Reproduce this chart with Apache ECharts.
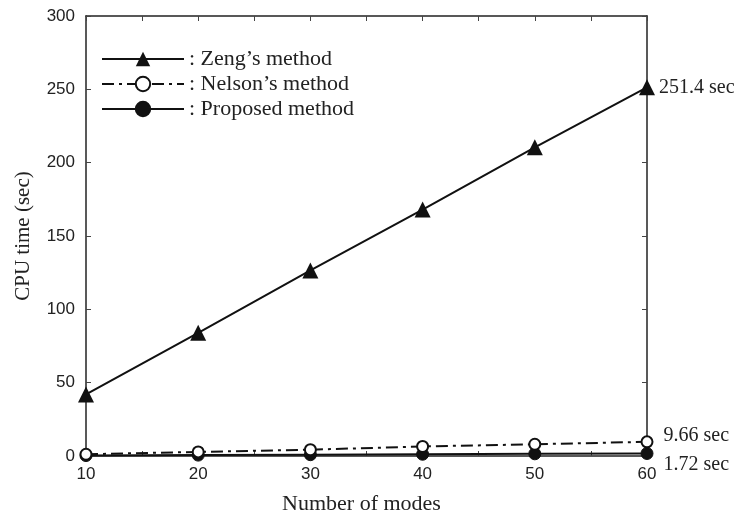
<!DOCTYPE html>
<html>
<head>
<meta charset="utf-8">
<script src="https://cdn.jsdelivr.net/npm/echarts@6/dist/echarts.min.js"></script>
<style>html,body{margin:0;padding:0;background:#fff;}#c{width:735px;height:520px;}</style>
</head>
<body>
<div id="c"></div>
<script>
const modes = [10, 20, 30, 40, 50, 60];
const zengValues = [42, 84, 126.5, 168, 210.5, 251.4];
const nelsonValues = [1.2, 2.8, 4.3, 6.5, 8.0, 9.66];
const proposedValues = [0.3, 0.6, 0.9, 1.2, 1.5, 1.72];
const seriesNames = ["Zeng\u2019s method", "Nelson\u2019s method", "Proposed method"];
const yTicks = [0, 50, 100, 150, 200, 250, 300];

const serif = "'Liberation Serif', 'Times New Roman', serif";
const sans = "'Liberation Sans', Arial, sans-serif";

function build(values, lastOffset, dist) {
  return values.map((v, i) => {
    const item = { value: [modes[i], v] };
    if (i === values.length - 1) {
      item.label = {
        show: true, position: 'right', distance: dist,
        offset: lastOffset,
        formatter: (p) => p.value[1] + ' sec',
        fontFamily: serif, fontSize: 20, color: '#222'
      };
    }
    return item;
  });
}

const chart = echarts.init(document.getElementById('c'), null, { renderer: 'canvas' });
const axisLine = { show: true, onZero: false, lineStyle: { color: '#222', width: 1.5 } };
const tick = { show: true, inside: true, length: 5, lineStyle: { color: '#444', width: 1 } };

chart.setOption({
  animation: false,
  backgroundColor: '#fff',
  grid: { left: 86, right: 88, top: 16, bottom: 64, containLabel: false },
  legend: {
    orient: 'vertical', left: 96, top: 43,
    itemWidth: 82, itemHeight: 18, itemGap: 3,
    textStyle: { fontFamily: serif, fontSize: 22, color: '#222' },
    formatter: (n) => ': ' + n,
    data: seriesNames
  },
  xAxis: [
    {
      type: 'value', min: 10, max: 60, interval: 10, position: 'bottom',
      axisLine, axisTick: tick,
      minorTick: { show: true, splitNumber: 2, length: 5, lineStyle: { color: '#444' } },
      splitLine: { show: false },
      axisLabel: { fontFamily: sans, fontSize: 17, color: '#222', margin: 10 },
      name: 'Number of modes', nameLocation: 'middle', nameGap: 37,
      nameTextStyle: { fontFamily: serif, fontSize: 22, color: '#222', padding: [0, 10, 0, 0] }
    },
    {
      type: 'value', min: 10, max: 60, interval: 5, position: 'top',
      axisLine, axisTick: tick, axisLabel: { show: false }, splitLine: { show: false }
    }
  ],
  yAxis: [
    {
      type: 'value', min: yTicks[0], max: yTicks[yTicks.length - 1], interval: 50, position: 'left',
      axisLine, axisTick: tick, splitLine: { show: false },
      axisLabel: { fontFamily: sans, fontSize: 17, color: '#222', margin: 11 },
      name: 'CPU time (sec)', nameLocation: 'middle', nameGap: 52, nameRotate: 90,
      nameTextStyle: { fontFamily: serif, fontSize: 21, color: '#222' }
    },
    {
      type: 'value', min: yTicks[0], max: yTicks[yTicks.length - 1], interval: 50, position: 'right',
      axisLine, axisTick: tick, axisLabel: { show: false }, splitLine: { show: false }
    }
  ],
  series: [
    {
      name: seriesNames[2], type: 'line', z: 3,
      data: build(proposedValues, [0, 11], 10),
      symbol: 'circle', symbolSize: 12,
      itemStyle: { color: '#111', borderColor: '#111', borderWidth: 1 },
      lineStyle: { color: '#111', width: 2 }
    },
    {
      name: seriesNames[1], type: 'line', z: 4,
      data: build(nelsonValues, [0, -6], 10),
      symbol: 'circle', symbolSize: 11,
      itemStyle: { color: '#fff', borderColor: '#111', borderWidth: 2 },
      lineStyle: { color: '#111', width: 2, type: [12, 5, 3, 5] }
    },
    {
      name: seriesNames[0], type: 'line', z: 5,
      data: build(zengValues, [0, 0], 4),
      symbol: 'triangle', symbolSize: 16,
      itemStyle: { color: '#111' },
      lineStyle: { color: '#111', width: 2 }
    }
  ]
});
</script>
</body>
</html>
